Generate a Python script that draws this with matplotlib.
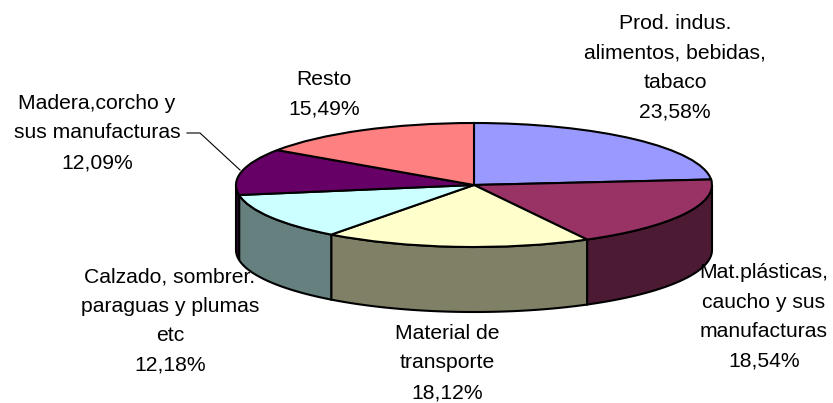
import numpy as np
import matplotlib
matplotlib.use("Agg")
import matplotlib.pyplot as plt

# Datos del grafico
etiquetas = ["Prod. indus.\nalimentos, bebidas,\ntabaco",
             "Mat.plásticas,\ncaucho y sus\nmanufacturas",
             "Material de\ntransporte",
             "Calzado, sombrer.\nparaguas y plumas\netc",
             "Madera,corcho y\nsus manufacturas",
             "Resto"]
valores = [23.58, 18.54, 18.12, 12.18, 12.09, 15.49]
colores = ["#9999FF", "#993366", "#FFFFCC", "#CCFFFF", "#660066", "#FF8080"]
colores_lado = ["#4D4D80", "#4D1A33", "#808066", "#668080", "#330033", "#804040"]

# Posicion de cada etiqueta en pixeles
pos_etiquetas = [(675, 68), (764, 317), (447, 363), (170, 321), (97, 133), (324, 94)]

W, H = 833, 403
cx, cy, rx, ry, alto = 474, 185, 238, 62, 65

plt.rcParams["font.family"] = "Liberation Sans"
fig = plt.figure(figsize=(W / 100, H / 100), dpi=100)

# Tarta: circulo unidad escalado a la elipse
ax = fig.add_axes([0, 0, 1, 1])
ax.pie(valores, colors=colores, startangle=90, counterclock=False, radius=1,
       wedgeprops={"edgecolor": "black", "linewidth": 1.5, "zorder": 5})
ax.set_aspect("auto")
ax.set_xlim(-cx / rx, (W - cx) / rx)
ax.set_ylim((cy - H) / ry, cy / ry)
ax.axis("off")

# Paredes laterales, solo la mitad delantera
angulos = np.concatenate([[0], np.cumsum(valores)]) / sum(valores) * 360
for i in range(len(valores)):
    a0 = max(angulos[i], 90)
    a1 = min(angulos[i + 1], 270)
    if a1 <= a0:
        continue
    t = np.radians(np.linspace(a0, a1, 60))
    x = np.sin(t)
    y = np.cos(t)
    px = np.concatenate([x, x[::-1]])
    py = np.concatenate([y, y[::-1] - alto / ry])
    ax.fill(px, py, facecolor=colores_lado[i], edgecolor="black", linewidth=1.5, zorder=1)

# Capa de textos en pixeles
ax2 = fig.add_axes([0, 0, 1, 1])
ax2.set_xlim(0, W)
ax2.set_ylim(H, 0)
ax2.axis("off")
for etq, val, (x, y) in zip(etiquetas, valores, pos_etiquetas):
    txt = etq + "\n" + f"{val:.2f}".replace(".", ",") + "%"
    ax2.text(x, y, txt, ha="center", va="center", fontsize=15.2,
             linespacing=1.71, color="black")

# Linea guia de Madera
ax2.plot([187, 200, 240], [133, 133, 170], color="black", lw=0.8)

fig.savefig("out.png", dpi=100)
